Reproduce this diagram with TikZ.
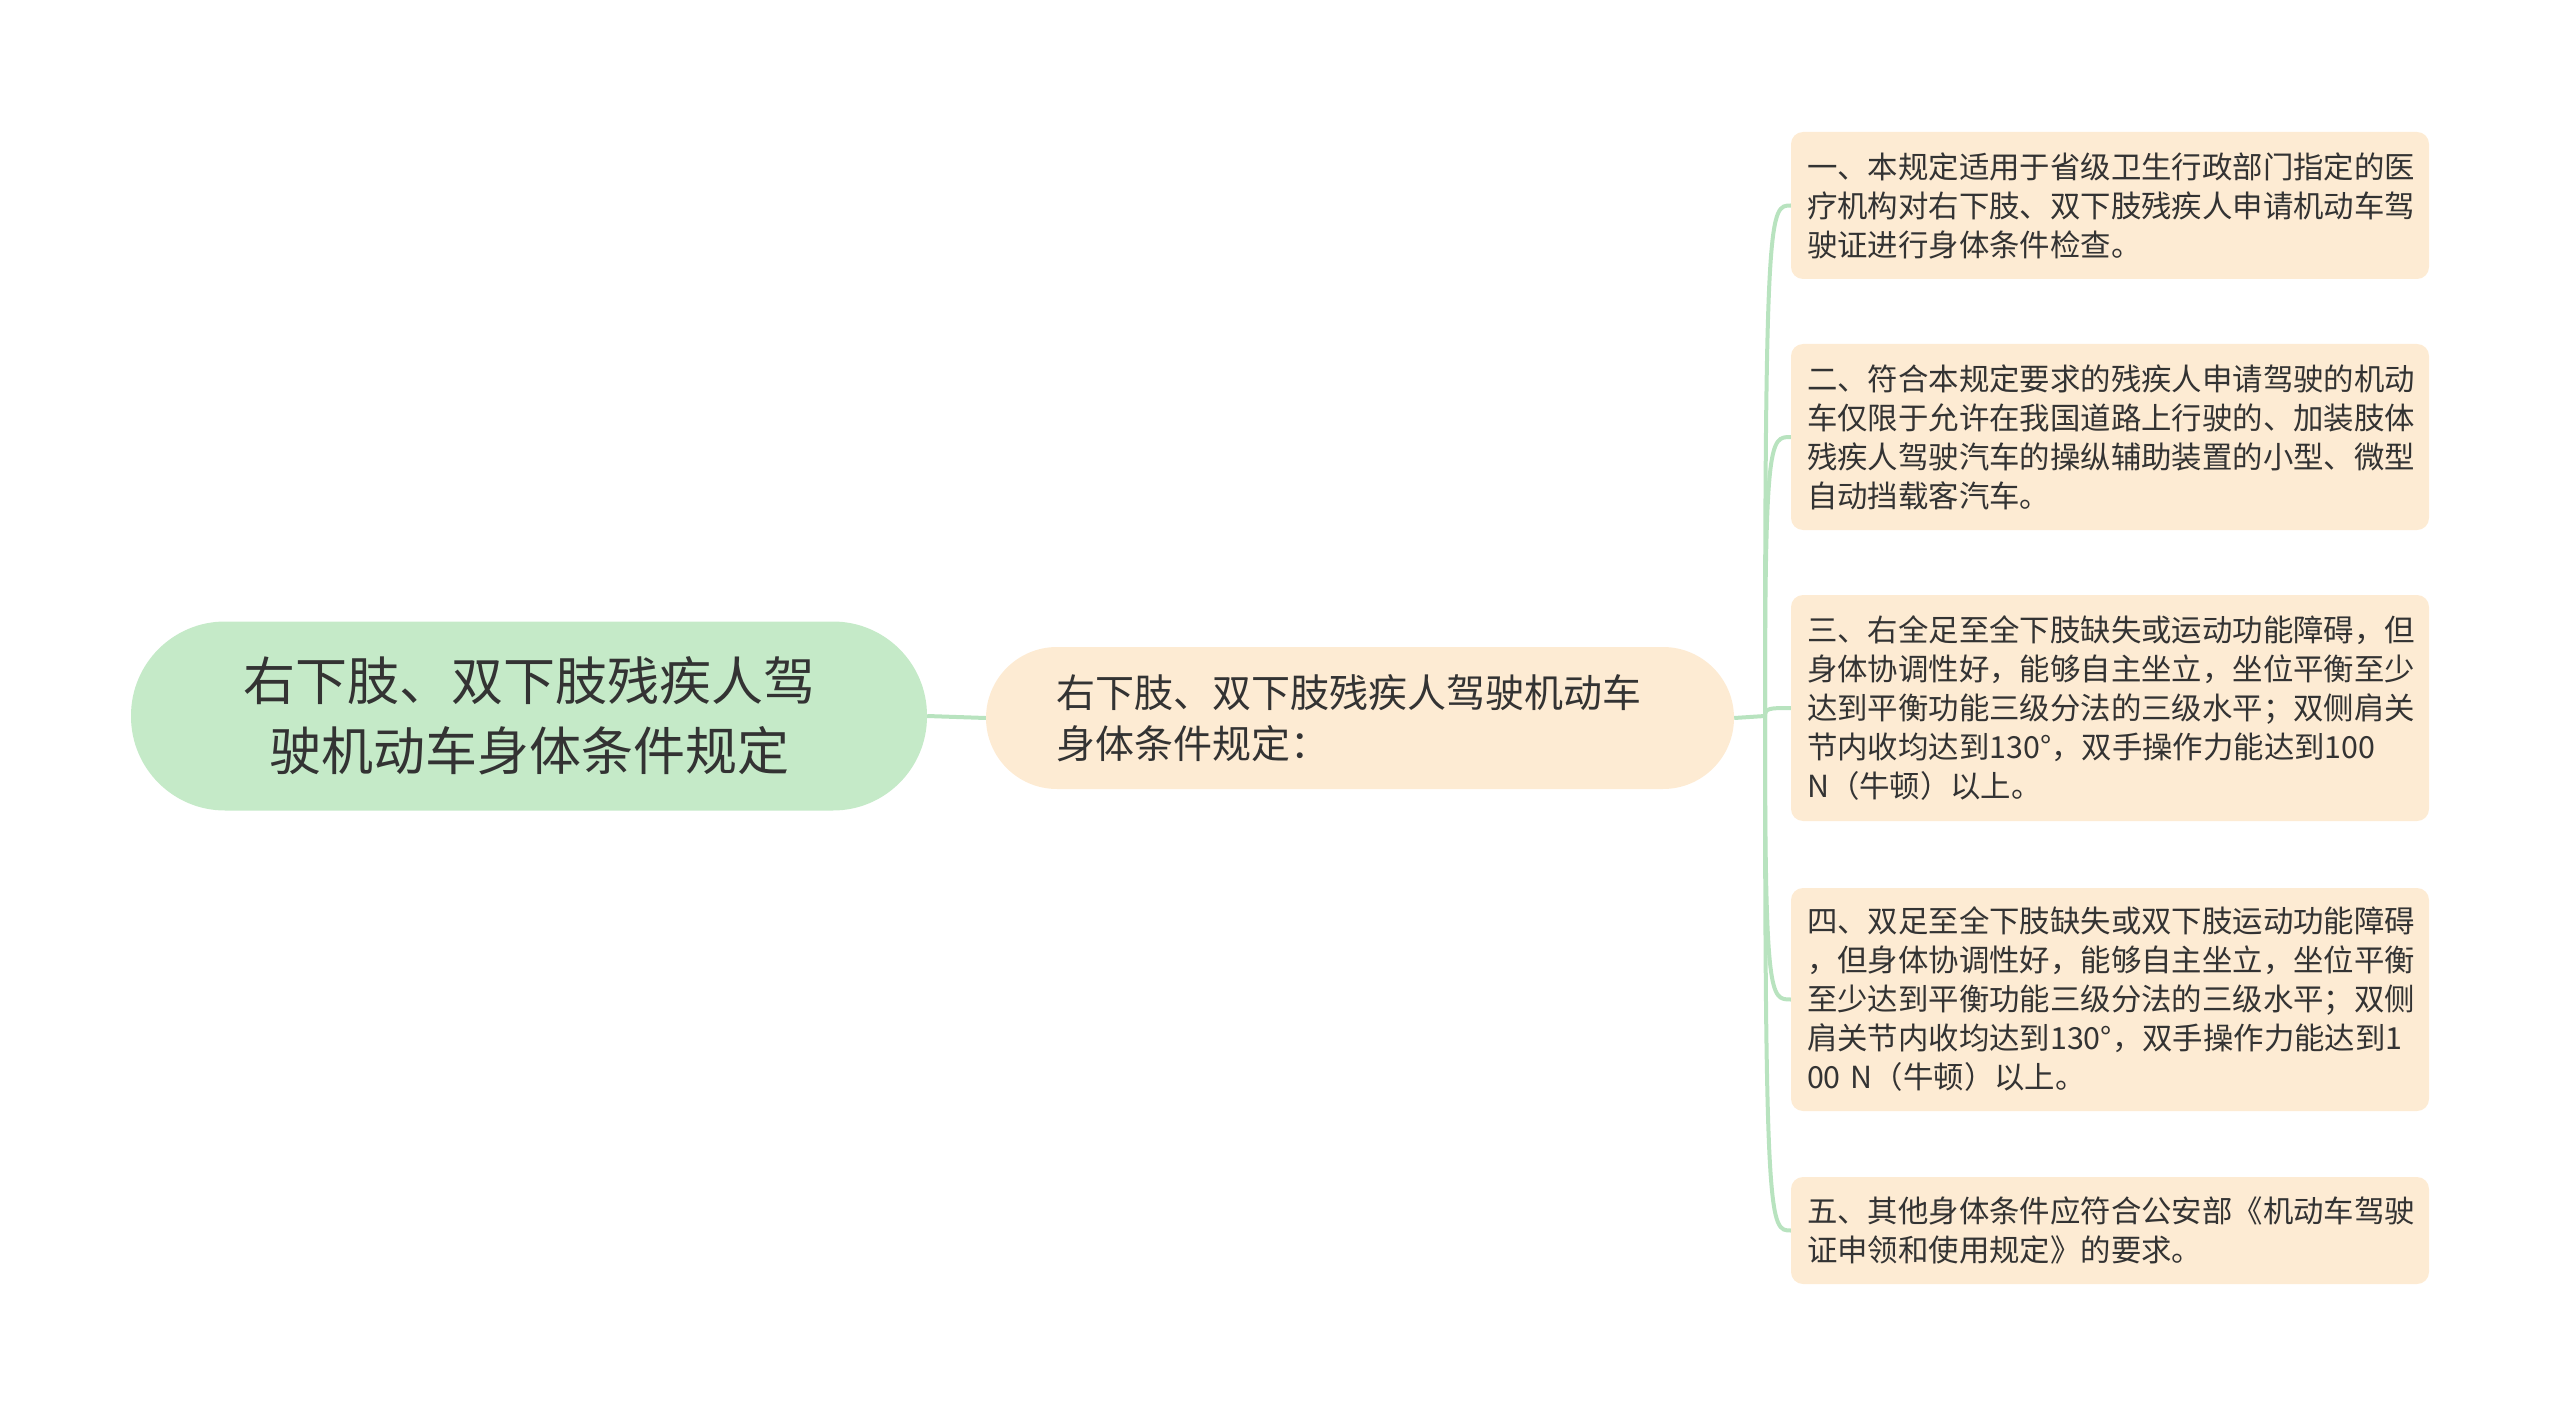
\documentclass[tikz,border=0pt]{standalone}
\usepackage{fontspec}
\setmainfont{Noto Sans CJK SC}
\definecolor{rootfill}{HTML}{C5EAC8}
\definecolor{peach}{HTML}{FDEBD3}
\definecolor{linkc}{HTML}{B8E3BF}
\definecolor{txt}{HTML}{333333}
\tikzset{
  rootbox/.style={fill=rootfill, rounded corners=94pt, minimum width=796pt, minimum height=189pt,
    inner sep=0pt, align=center, text=txt, font=\fontsize{52}{70}\selectfont},
  midbox/.style={fill=peach, rounded corners=71pt, minimum width=748pt, minimum height=142pt,
    text width=608pt, inner xsep=70pt, inner ysep=0pt, align=left, text=txt, font=\fontsize{39}{51}\selectfont},
  leafbox/.style={fill=peach, rounded corners=12pt, text width=610pt, inner xsep=14pt, inner ysep=0pt,
    align=left, text=txt, font=\fontsize{30.4}{39}\selectfont},
  link/.style={draw=linkc, line width=4pt}
}
\begin{document}
\begin{tikzpicture}[x=1pt,y=-1pt]
\useasboundingbox (0,0) rectangle (2560,1415);
\node[rootbox] (root) at (529,716) {右下肢、双下肢残疾人驾\\驶机动车身体条件规定};
\node[midbox] (mid) at (1360,718) {右下肢、双下肢残疾人驾驶机动车\\身体条件规定：};
\node[leafbox, minimum height=147pt] (l1) at (2110,205.5) {\hspace*{2pt}一、本规定适用于省级卫生行政部门指定的医\\\hspace*{2pt}疗机构对右下肢、双下肢残疾人申请机动车驾\\\hspace*{2pt}驶证进行身体条件检查。};
\node[leafbox, minimum height=186pt] (l2) at (2110,437) {\hspace*{2pt}二、符合本规定要求的残疾人申请驾驶的机动\\\hspace*{2pt}车仅限于允许在我国道路上行驶的、加装肢体\\\hspace*{2pt}残疾人驾驶汽车的操纵辅助装置的小型、微型\\\hspace*{2pt}自动挡载客汽车。};
\node[leafbox, minimum height=226pt] (l3) at (2110,708) {\hspace*{2pt}三、右全足至全下肢缺失或运动功能障碍，但\\\hspace*{2pt}身体协调性好，能够自主坐立，坐位平衡至少\\\hspace*{2pt}达到平衡功能三级分法的三级水平；双侧肩关\\\hspace*{2pt}节内收均达到130°，双手操作力能达到100\\\hspace*{2pt}N（牛顿）以上。};
\node[leafbox, minimum height=223pt] (l4) at (2110,999.5) {\hspace*{2pt}四、双足至全下肢缺失或双下肢运动功能障碍\\\hspace*{2pt}，但身体协调性好，能够自主坐立，坐位平衡\\\hspace*{2pt}至少达到平衡功能三级分法的三级水平；双侧\\\hspace*{2pt}肩关节内收均达到130°，双手操作力能达到1\\\hspace*{2pt}00 N（牛顿）以上。};
\node[leafbox, minimum height=107pt] (l5) at (2110,1230.5) {\hspace*{2pt}五、其他身体条件应符合公安部《机动车驾驶\\\hspace*{2pt}证申领和使用规定》的要求。};
\coordinate (jn) at (1765,716);
\draw[link] (root.east) -- (mid.west);
\draw[link] (mid.east) -- (jn);
\foreach \n/\y in {l1/205.5, l2/437, l3/708, l4/999.5, l5/1230.5} {
  \draw[link] (jn) .. controls (1765,\y) and (1770,\y) .. (\n.west);
}
\end{tikzpicture}
\end{document}
